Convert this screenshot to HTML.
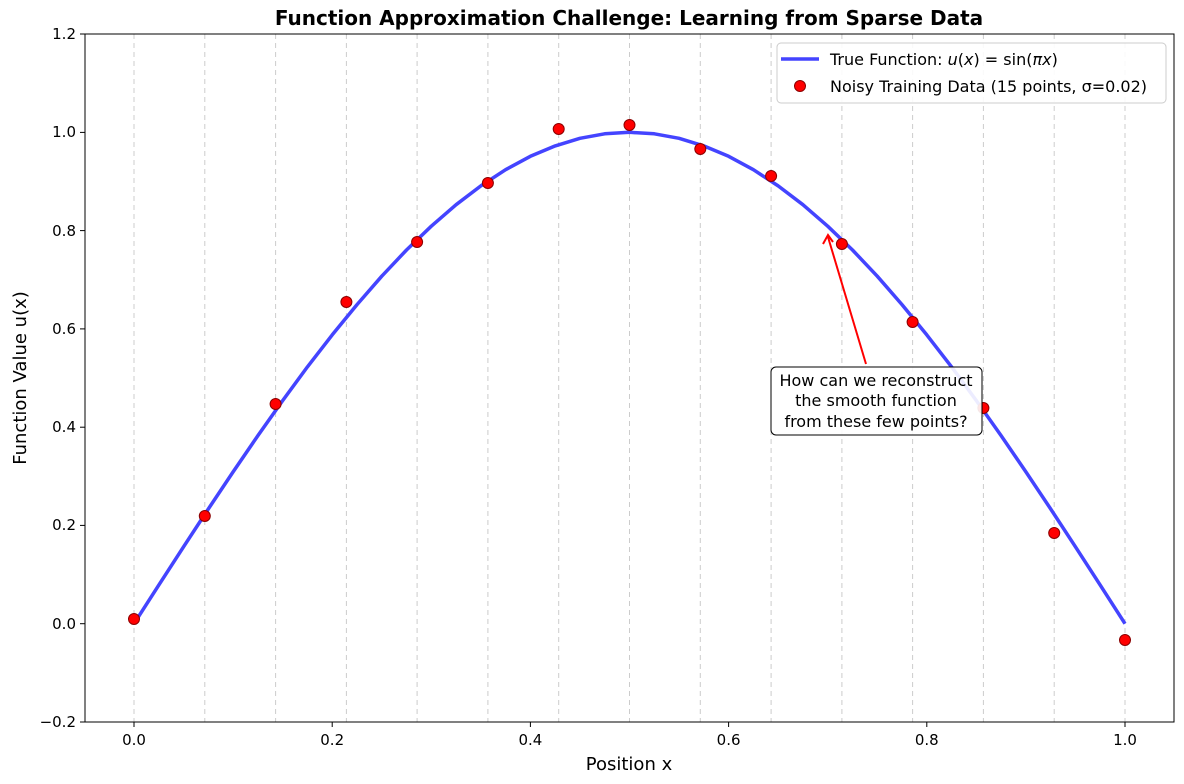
<!DOCTYPE html>
<html><head><meta charset="utf-8"><style>body{margin:0;background:#fff}svg{display:block;font-family:"DejaVu Sans","Liberation Sans",sans-serif}</style></head><body>
<svg width="1184" height="784" xmlns="http://www.w3.org/2000/svg">
<rect width="1184" height="784" fill="#fff"/>
<g stroke="#ccc" stroke-dasharray="5,4" stroke-width="1">
<line x1="134" y1="34" x2="134" y2="722"/><line x1="204.8" y1="34" x2="204.8" y2="722"/><line x1="275.6" y1="34" x2="275.6" y2="722"/><line x1="346.4" y1="34" x2="346.4" y2="722"/><line x1="417.1" y1="34" x2="417.1" y2="722"/><line x1="487.9" y1="34" x2="487.9" y2="722"/><line x1="558.7" y1="34" x2="558.7" y2="722"/><line x1="629.5" y1="34" x2="629.5" y2="722"/><line x1="700.3" y1="34" x2="700.3" y2="722"/><line x1="771.1" y1="34" x2="771.1" y2="722"/><line x1="841.9" y1="34" x2="841.9" y2="722"/><line x1="912.6" y1="34" x2="912.6" y2="722"/><line x1="983.4" y1="34" x2="983.4" y2="722"/><line x1="1054.2" y1="34" x2="1054.2" y2="722"/><line x1="1125" y1="34" x2="1125" y2="722"/>
</g>
<polyline fill="none" stroke="#4444ff" stroke-width="3.5" stroke-linejoin="round" points="134,623.7 158.8,585.1 183.55,546.8 208.3,509.0 233.1,471.9 257.9,435.6 282.65,400.6 307.4,366.9 332.2,334.9 357.0,304.6 381.75,276.2 406.5,250.0 431.3,226.2 456.1,204.7 480.85,185.9 505.6,169.7 530.4,156.3 555.2,145.9 579.95,138.3 604.7,133.8 629.5,132.3 654.3,133.8 679.05,138.3 703.8,145.9 728.6,156.3 753.4,169.7 778.15,185.9 802.9,204.7 827.7,226.2 852.5,250.0 877.25,276.2 902.0,304.6 926.8,334.9 951.6,366.9 976.35,400.6 1001.1,435.6 1025.9,471.9 1050.7,509.0 1075.45,546.8 1100.2,585.1 1125,623.7"/>
<g fill="#ff0000" stroke="#8b0000" stroke-width="1">
<circle cx="134" cy="619" r="5.5"/><circle cx="204.8" cy="516" r="5.5"/><circle cx="275.6" cy="404" r="5.5"/><circle cx="346.4" cy="302" r="5.5"/><circle cx="417.1" cy="242" r="5.5"/><circle cx="487.9" cy="183" r="5.5"/><circle cx="558.7" cy="129" r="5.5"/><circle cx="629.5" cy="125" r="5.5"/><circle cx="700.3" cy="149" r="5.5"/><circle cx="771.1" cy="176" r="5.5"/><circle cx="841.9" cy="244" r="5.5"/><circle cx="912.6" cy="322" r="5.5"/><circle cx="983.4" cy="408" r="5.5"/><circle cx="1054.2" cy="533" r="5.5"/><circle cx="1125" cy="640" r="5.5"/>
</g>
<line x1="866" y1="364" x2="828" y2="237" stroke="#ff0000" stroke-width="2"/>
<polyline points="823,244 828,235 833,242" fill="none" stroke="#ff0000" stroke-width="2"/>
<rect x="771" y="367" width="211" height="68" rx="5" fill="#fff" fill-opacity="0.9" stroke="#000" stroke-width="1"/>
<g font-size="16" text-anchor="middle" fill="#000"><text x="876" y="386">How can we reconstruct</text><text x="876" y="406">the smooth function</text><text x="876" y="427">from these few points?</text></g>
<rect x="85" y="34" width="1089" height="688" fill="none" stroke="#000" stroke-width="1"/>
<g stroke="#000"><line x1="134" y1="722" x2="134" y2="727"/><line x1="332.2" y1="722" x2="332.2" y2="727"/><line x1="530.4" y1="722" x2="530.4" y2="727"/><line x1="728.6" y1="722" x2="728.6" y2="727"/><line x1="926.8" y1="722" x2="926.8" y2="727"/><line x1="1125" y1="722" x2="1125" y2="727"/>
<line x1="80" y1="722" x2="85" y2="722"/><line x1="80" y1="623.7" x2="85" y2="623.7"/><line x1="80" y1="525.4" x2="85" y2="525.4"/><line x1="80" y1="427.2" x2="85" y2="427.2"/><line x1="80" y1="328.9" x2="85" y2="328.9"/><line x1="80" y1="230.6" x2="85" y2="230.6"/><line x1="80" y1="132.4" x2="85" y2="132.4"/><line x1="80" y1="34" x2="85" y2="34"/></g>
<g font-size="15" text-anchor="middle"><text x="134" y="745">0.0</text><text x="332.2" y="745">0.2</text><text x="530.4" y="745">0.4</text><text x="728.6" y="745">0.6</text><text x="926.8" y="745">0.8</text><text x="1125" y="745">1.0</text></g>
<g font-size="15" text-anchor="end"><text x="76" y="727">−0.2</text><text x="76" y="629">0.0</text><text x="76" y="530">0.2</text><text x="76" y="432">0.4</text><text x="76" y="334">0.6</text><text x="76" y="236">0.8</text><text x="76" y="137">1.0</text><text x="76" y="39">1.2</text></g>
<text x="629" y="770" font-size="18" text-anchor="middle">Position x</text>
<text transform="translate(26,378) rotate(-90)" font-size="18" text-anchor="middle">Function Value u(x)</text>
<text x="629" y="25" font-size="20" font-weight="bold" text-anchor="middle">Function Approximation Challenge: Learning from Sparse Data</text>
<rect x="777" y="43" width="389" height="60" rx="4" fill="#fff" fill-opacity="0.9" stroke="#ccc"/>
<line x1="781" y1="59" x2="819" y2="59" stroke="#4444ff" stroke-width="3.5"/>
<circle cx="800" cy="86" r="5.5" fill="#ff0000" stroke="#8b0000"/>
<text x="830" y="65" font-size="16">True Function: <tspan font-style="italic">u</tspan>(<tspan font-style="italic">x</tspan>) = sin(<tspan font-style="italic">πx</tspan>)</text>
<text x="830" y="92" font-size="16">Noisy Training Data (15 points, σ=0.02)</text>
</svg>
</body></html>
